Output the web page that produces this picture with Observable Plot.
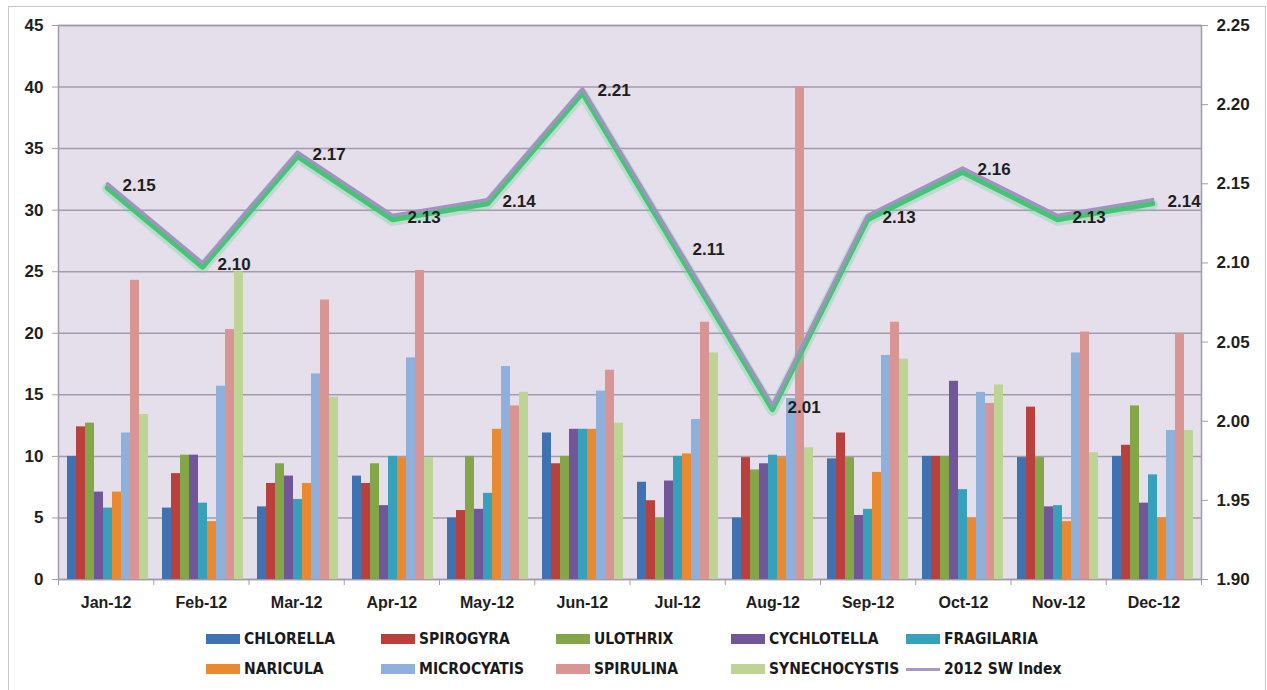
<!DOCTYPE html>
<html>
<head>
<meta charset="utf-8">
<script src="https://cdn.jsdelivr.net/npm/d3@7"></script>
<script src="https://cdn.jsdelivr.net/npm/@observablehq/plot@0.6"></script>
<style>
  body { margin: 0; background: #ffffff; }
  #chart { position: relative; width: 1267px; height: 690px; overflow: hidden; background: #ffffff; }
  #chart svg { position: absolute; left: 0; top: 0; }
  .border { position: absolute; left: 8px; top: 6px; width: 1258px; height: 720px; border: 1px solid #c8c8c8; box-sizing: border-box; }
  #legend {
    position: absolute; left: 206px; top: 629px;
    display: grid; grid-template-columns: repeat(5, 175px); row-gap: 10px;
    font: bold 15.5px "DejaVu Sans Condensed", "Liberation Sans Narrow", sans-serif; color: #1a1a1a;
  }
  .item { display: flex; align-items: center; height: 20px; white-space: nowrap; }
  .sw { width: 34px; height: 10px; margin-right: 4px; flex: none; }
  .ln { width: 34px; height: 3px; margin-right: 4px; flex: none; }
</style>
</head>
<body>
<div id="chart"><div class="border"></div></div>
<script>
// Months on the category axis
const months = ["Jan-12", "Feb-12", "Mar-12", "Apr-12", "May-12", "Jun-12",
                "Jul-12", "Aug-12", "Sep-12", "Oct-12", "Nov-12", "Dec-12"];

// Algae groups (bar series) and their colours
const species = ["CHLORELLA", "SPIROGYRA", "ULOTHRIX", "CYCHLOTELLA", "FRAGILARIA",
                 "NARICULA", "MICROCYATIS", "SPIRULINA", "SYNECHOCYSTIS"];
const colors = ["#3f72b0", "#b9403d", "#85a648", "#71569a", "#37a0ba",
                "#ea8a30", "#8fb0da", "#d99494", "#bdd494"];

// Monthly counts per group (left axis)
const chlorella     = [10.0, 5.8, 5.9, 8.4, 5.0, 11.9, 7.9, 5.0, 9.8, 10.0, 9.9, 10.0];
const spirogyra     = [12.4, 8.6, 7.8, 7.8, 5.6, 9.4, 6.4, 9.9, 11.9, 10.0, 14.0, 10.9];
const ulothrix      = [12.7, 10.1, 9.4, 9.4, 10.0, 10.0, 5.0, 8.9, 9.9, 10.0, 9.9, 14.1];
const cychlotella   = [7.1, 10.1, 8.4, 6.0, 5.7, 12.2, 8.0, 9.4, 5.2, 16.1, 5.9, 6.2];
const fragilaria    = [5.8, 6.2, 6.5, 10.0, 7.0, 12.2, 10.0, 10.1, 5.7, 7.3, 6.0, 8.5];
const naricula      = [7.1, 4.7, 7.8, 9.9, 12.2, 12.2, 10.2, 9.9, 8.7, 5.0, 4.7, 5.0];
const microcyatis   = [11.9, 15.7, 16.7, 18.0, 17.3, 15.3, 13.0, 14.7, 18.2, 15.2, 18.4, 12.1];
const spirulina     = [24.3, 20.3, 22.7, 25.1, 14.1, 17.0, 20.9, 40.0, 20.9, 14.3, 20.1, 20.0];
const synechocystis = [13.4, 25.0, 14.8, 9.9, 15.2, 12.7, 18.4, 10.7, 17.9, 15.8, 10.3, 12.1];

// Shannon-Wiener index (right axis)
const swIndex = [2.15, 2.10, 2.17, 2.13, 2.14, 2.21, 2.11, 2.01, 2.13, 2.16, 2.13, 2.14];

// Axis ticks
const leftTicks = [0, 5, 10, 15, 20, 25, 30, 35, 40, 45];
const rightTicks = [1.90, 1.95, 2.00, 2.05, 2.10, 2.15, 2.20, 2.25];

const series = [chlorella, spirogyra, ulothrix, cychlotella, fragilaria,
                naricula, microcyatis, spirulina, synechocystis];
const table = months.flatMap((m, i) =>
  species.map((s, j) => ({month: m, species: s, value: series[j][i]})));
const lineData = months.map((m, i) => ({month: m, sw: swIndex[i]}));

const BG = "#e5deeb";
const GRID = "#a39bab";
const INK = "#1e1e1e";
const FONT = "'Liberation Sans', Arial, sans-serif";

const dims = {width: 1267, height: 620, marginLeft: 58, marginRight: 66, marginTop: 25, marginBottom: 41};
const clear = {background: "transparent", fontFamily: FONT, overflow: "visible"};

// Layer 1: plot area, gridlines, left axis and month labels
const grid = Plot.plot({
  ...dims,
  style: clear,
  x: {domain: [0, months.length], axis: null},
  y: {domain: [0, 45], axis: null},
  marks: [
    Plot.frame({fill: BG, stroke: GRID, strokeWidth: 1.5}),
    Plot.gridY(leftTicks, {stroke: GRID, strokeOpacity: 1, strokeWidth: 1.5}),
    Plot.axisY(leftTicks, {anchor: "left", label: null, tickSize: 6, tickPadding: 9, stroke: GRID,
      fill: INK, fontSize: 17, fontWeight: "bold", tickFormat: d => String(d)}),
    Plot.axisX(d3.range(months.length + 1), {anchor: "bottom", label: null, tickSize: 6, stroke: GRID, tickFormat: () => ""}),
    Plot.text(months, {x: (d, i) => i + 0.5, y: 0, dy: 23, text: d => d,
      fontSize: 16, fontWeight: "bold", fill: INK})
  ]
});

// Layer 2: clustered bars, one facet per month
const bars = Plot.plot({
  ...dims,
  style: clear,
  facet: {data: table, x: "month"},
  fx: {domain: months, paddingInner: 0.135, paddingOuter: 0.0675, axis: null, label: null},
  x: {domain: species, padding: 0, axis: null},
  y: {domain: [0, 45], axis: null},
  color: {domain: species, range: colors},
  marks: [
    Plot.barY(table, {x: "species", y: "value", fill: "species"})
  ]
});

// Layer 3: index line with green glow, value labels and right axis
const line = Plot.plot({
  ...dims,
  style: clear,
  x: {type: "point", domain: months, padding: 0.5, axis: null},
  y: {domain: [1.90, 2.25], axis: null},
  marks: [
    Plot.axisY(rightTicks, {anchor: "right", label: null, tickSize: 6, tickPadding: 9, stroke: GRID,
      fill: INK, fontSize: 17, fontWeight: "bold", tickFormat: d3.format(".2f")}),
    Plot.line(lineData, {x: "month", y: "sw", stroke: "#6fd898", strokeWidth: 11, strokeOpacity: 0.35, dy: 5}),
    Plot.line(lineData, {x: "month", y: "sw", stroke: "#44c475", strokeWidth: 5.5, dy: 4}),
    Plot.line(lineData, {x: "month", y: "sw", stroke: "#a093bf", strokeWidth: 3.5}),
    Plot.text(lineData, {x: "month", y: "sw", text: d => d.sw.toFixed(2), textAnchor: "start",
      dx: 15, dy: 2, fontSize: 17, fontWeight: "bold", fill: INK})
  ]
});

const chart = document.getElementById("chart");
chart.append(grid, bars, line);

// Legend below the plot
const legend = document.createElement("div");
legend.id = "legend";
const entries = [
  ...species.map((s, i) => ({label: s, color: colors[i], kind: "sw"})),
  {label: "2012 SW Index", color: "#a898c8", kind: "ln"}
];
for (const e of entries) {
  const item = document.createElement("div");
  item.className = "item";
  const mark = document.createElement("span");
  mark.className = e.kind;
  mark.style.background = e.color;
  const text = document.createElement("span");
  text.textContent = e.label;
  item.append(mark, text);
  legend.append(item);
}
chart.append(legend);
</script>
</body>
</html>
